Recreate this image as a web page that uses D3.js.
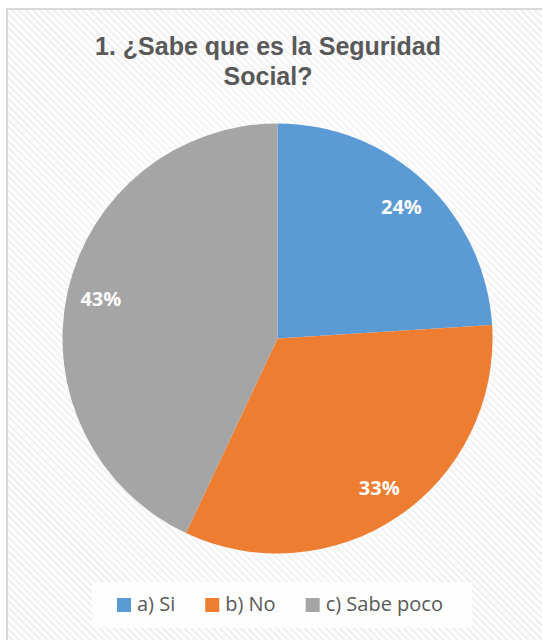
<!DOCTYPE html>
<html>
<head>
<meta charset="utf-8">
<script src="https://cdn.jsdelivr.net/npm/d3@7"></script>
<style>
  html, body { margin: 0; padding: 0; background: #fff; }
  svg { display: block; }
</style>
</head>
<body>
<div id="chart"></div>
<script>
// data
const categories = ["a) Si", "b) No", "c) Sabe poco"];
const values = [24, 33, 43];
const colors = ["#5B9BD5", "#ED7D31", "#A5A5A5"];
const titleLines = ["1. ¿Sabe que es la Seguridad", "Social?"];

const width = 542, height = 640;
const cx = 277.5, cy = 338.5, radius = 215;

const svg = d3.select("#chart").append("svg")
    .attr("width", width)
    .attr("height", height);

// striped chart background
let defs = svg.append("defs");
let pat = defs.append("pattern")
    .attr("id", "stripes")
    .attr("patternUnits", "userSpaceOnUse")
    .attr("width", 5)
    .attr("height", 5)
    .attr("patternTransform", "rotate(-45)");
pat.append("rect").attr("width", 5).attr("height", 5).attr("fill", "#ffffff");
pat.append("rect").attr("width", 2.2).attr("height", 5).attr("fill", "#efefef");

// soft white glow in the middle of the chart area
let glow = defs.append("radialGradient")
    .attr("id", "glow")
    .attr("cx", "50%").attr("cy", "45%").attr("r", "55%");
glow.append("stop").attr("offset", "0%").attr("stop-color", "#fff").attr("stop-opacity", 0.8);
glow.append("stop").attr("offset", "100%").attr("stop-color", "#fff").attr("stop-opacity", 0);

svg.append("rect")
    .attr("x", 7)
    .attr("y", 9)
    .attr("width", width + 10)
    .attr("height", height + 10)
    .style("fill", "url(#stripes)")
    .style("stroke", "#d9d9d9")
    .style("stroke-width", 2);

svg.append("rect")
    .attr("x", 8)
    .attr("y", 10)
    .attr("width", width)
    .attr("height", height)
    .style("fill", "url(#glow)");

// title
svg.append("text")
    .attr("text-anchor", "middle")
    .style("font-family", "'Liberation Sans', Arial, sans-serif")
    .style("font-weight", "bold")
    .style("font-size", "25px")
    .style("fill", "#595959")
    .selectAll("tspan")
    .data(titleLines)
    .enter()
    .append("tspan")
    .attr("x", 268)
    .attr("y", (d, i) => 55 + i * 30)
    .text(d => d);

// pie
let pie = d3.pie().sort(null).value(d => d);
let arcs = pie(values);
let arc = d3.arc().innerRadius(0).outerRadius(radius);
let labelArc = d3.arc().innerRadius(181).outerRadius(181);

let g = svg.append("g").attr("transform", "translate(" + cx + "," + cy + ")");

g.selectAll("path")
    .data(arcs)
    .enter()
    .append("path")
    .attr("d", arc)
    .style("fill", (d, i) => colors[i]);

let total = d3.sum(values);
g.selectAll("text.lbl")
    .data(arcs)
    .enter()
    .append("text")
    .attr("class", "lbl")
    .attr("transform", d => "translate(" + labelArc.centroid(d) + ")")
    .attr("text-anchor", "middle")
    .attr("dy", "0.36em")
    .style("font-family", "'Open Sans', sans-serif")
    .style("font-weight", "bold")
    .style("font-size", "20px")
    .style("fill", "#ffffff")
    .text(d => Math.round(d.value / total * 100) + "%");

// legend
svg.append("rect")
    .attr("x", 92)
    .attr("y", 582)
    .attr("width", 380)
    .attr("height", 46)
    .style("fill", "#ffffff")
    .style("opacity", 0.85);

let legend = svg.append("g");
let items = legend.selectAll("g")
    .data(categories)
    .enter()
    .append("g");

items.append("rect")
    .attr("width", 14)
    .attr("height", 14)
    .attr("y", 598)
    .style("fill", (d, i) => colors[i]);

items.append("text")
    .attr("x", 20)
    .attr("y", 611)
    .style("font-family", "'Open Sans', sans-serif")
    .style("font-size", "20px")
    .style("fill", "#595959")
    .text(d => d);

// place items one after another
let xPos = 117;
items.each(function () {
    let w = d3.select(this).select("text").node().getComputedTextLength();
    d3.select(this).attr("transform", "translate(" + xPos + ",0)");
    xPos += 20 + w + 30;
});
</script>
</body>
</html>
